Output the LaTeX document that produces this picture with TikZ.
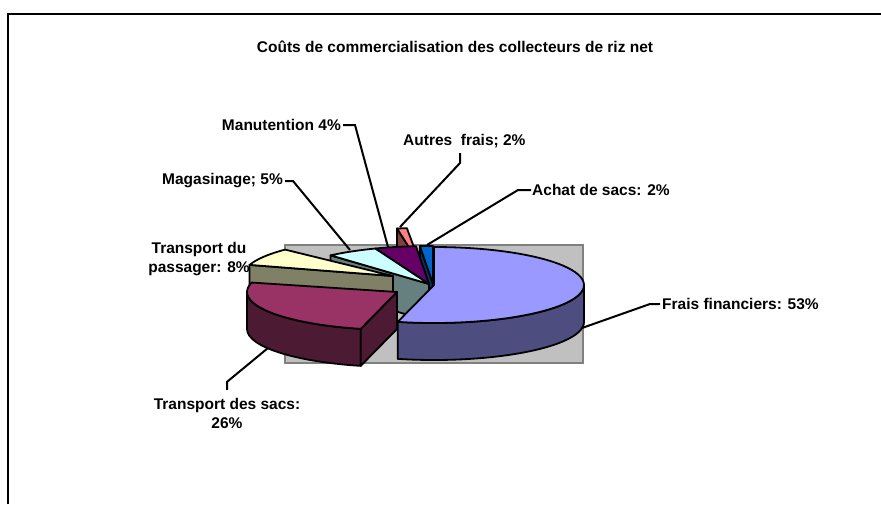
\documentclass[tikz,border=0pt]{standalone}
\usepackage{fontspec}
\setmainfont{Liberation Sans}
\usetikzlibrary{calc}
\definecolor{fraisT}{HTML}{9999FF}
\definecolor{fraisS}{HTML}{4D4D80}
\definecolor{sacsT}{HTML}{993366}
\definecolor{sacsS}{HTML}{4D1A33}
\definecolor{passT}{HTML}{FFFFCC}
\definecolor{passS}{HTML}{808066}
\definecolor{magaT}{HTML}{CCFFFF}
\definecolor{magaS}{HTML}{668080}
\definecolor{manuT}{HTML}{660066}
\definecolor{autrT}{HTML}{FF8080}
\definecolor{autrS}{HTML}{804040}
\definecolor{achaT}{HTML}{0066CC}
\definecolor{achaS}{HTML}{003366}
\definecolor{plotbg}{HTML}{C0C0C0}
\definecolor{plotbd}{HTML}{808080}
\newcommand{\sliceTop}[4]{%
  \filldraw[slice,fill=#4] (#1) -- ($(#1)+(#2:150pt and 38pt)$)
    arc[start angle=#2,end angle=#3,x radius=150pt,y radius=38pt] -- cycle;}
\newcommand{\sliceFace}[3]{%
  \filldraw[slice,fill=#3] (#1) -- ($(#1)+(#2:150pt and 38pt)$) -- ++(0,-37)
    -- ($(#1)+(0,-37)$) -- cycle;}
\newcommand{\sliceSide}[4]{%
  \filldraw[slice,fill=#4] ($(#1)+(#2:150pt and 38pt)$)
    arc[start angle=#2,end angle=#3,x radius=150pt,y radius=38pt] -- ++(0,-37)
    arc[start angle=#3,end angle=#2,x radius=150pt,y radius=38pt] -- cycle;}
\begin{document}
\begin{tikzpicture}[x=1pt,y=1pt,
  slice/.style={draw=black,line width=1.8pt,line join=round},
  leader/.style={draw=black,line width=2pt,line join=miter},
  lbl/.style={font=\fontsize{15.5}{19.5}\selectfont\bfseries,inner sep=0pt,text=black}]
\useasboundingbox (0,0) rectangle (881,-504);
\fill[white] (0,0) rectangle (881,-504);
\draw[line width=2.5pt] (8,-504) -- (8,-14) -- (881,-14);
% title
\node[lbl] (title) at (455,-47) {Coûts de commercialisation des collecteurs de riz net};
% plot area
\filldraw[fill=plotbg,draw=plotbd,line width=1.5pt] (285,-245) rectangle (583,-363);
% centres
\coordinate (cO) at (421,-266);
\coordinate (cA) at (433,-284);
\coordinate (cN) at (429,-284);
\coordinate (cM) at (429,-284);
\coordinate (cP) at (393,-276);
\coordinate (cF) at (434,-285);
\coordinate (cT) at (397,-292);
% Autres frais
\sliceFace{cO}{99.2}{autrS}
\sliceTop{cO}{95.4}{99.2}{autrT}
% Achat de sacs
\sliceFace{cA}{95}{achaS}
\sliceTop{cA}{90}{95}{achaT}
% Manutention
\sliceTop{cN}{95}{111}{manuT}
% Magasinage
\sliceFace{cM}{131}{magaS}
\sliceTop{cM}{111}{131}{magaT}
% Transport du passager
\sliceFace{cP}{163}{passS}
\sliceTop{cP}{136}{163}{passT}
% Frais financiers
\sliceSide{cF}{-104}{0}{fraisS}
\sliceTop{cF}{-104}{90}{fraisT}
% Transport des sacs
\sliceSide{cT}{180}{256}{sacsS}
\sliceFace{cT}{256}{sacsS}
\sliceTop{cT}{165.6}{256}{sacsT}
% leader targets
\coordinate (pmanu) at (388,-247);
\coordinate (pmaga) at (350,-250);
\coordinate (pautr) at (400,-227);
\coordinate (pacha) at (427,-245);
\coordinate (pfrai) at (582,-328);
\coordinate (psacs) at (268,-348);
% labels
\node[lbl,anchor=east] (lmanu) at (341,-125) {Manutention 4\%};
\node[lbl,anchor=east] (lmaga) at (283,-181) {Magasinage; 5\%};
\node[lbl,anchor=west] (lautr) at (403,-141) {Autres\ \ frais; 2\%};
\node[lbl,anchor=west] (lacha) at (532,-190) {Achat de sacs: 2\%};
\node[lbl,anchor=west] (lfrai) at (662,-304) {Frais financiers: 53\%};
\node[lbl,align=center] (lpass) at (199,-259) {Transport du\\passager: 8\%};
\node[lbl,align=center] (lsacs) at (227,-413.5) {Transport des sacs:\\26\%};
% leaders
\draw[leader] ([xshift=2pt]lmanu.east) -- ++(12,0) -- (pmanu);
\draw[leader] ([xshift=2pt]lmaga.east) -- ++(8,0) -- (pmaga);
\draw[leader] ([xshift=57pt,yshift=-5pt]lautr.south west) -- ++(0,-10) -- (pautr);
\draw[leader] ([xshift=-1pt]lacha.west) -- ++(-13,0) -- (pacha);
\draw[leader] ([xshift=-2pt]lfrai.west) -- ++(-10,0) -- (pfrai);
\draw[leader] ([yshift=8pt]lsacs.north) -- ++(0,8) -- (psacs);
\end{tikzpicture}
\end{document}
